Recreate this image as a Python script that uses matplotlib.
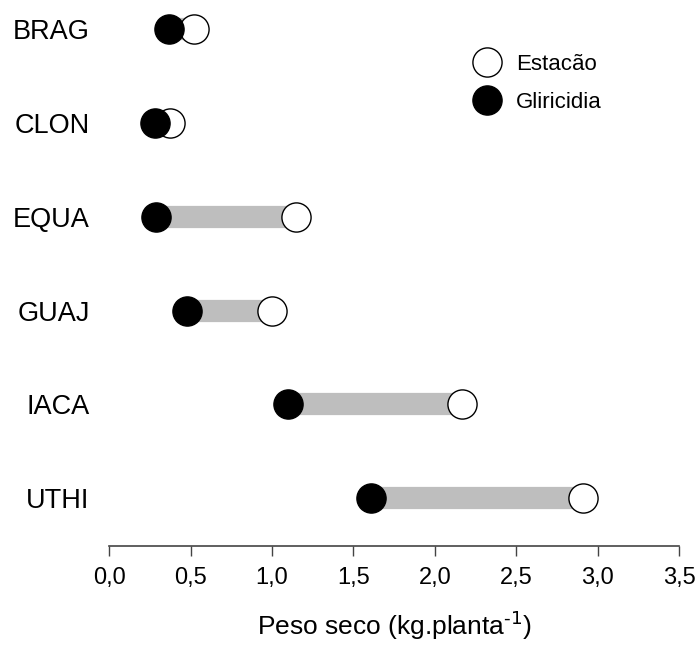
import matplotlib
matplotlib.use("Agg")
import matplotlib.pyplot as plt
from matplotlib.lines import Line2D
from matplotlib.ticker import FuncFormatter

plt.rcParams["font.family"] = ["Liberation Sans", "DejaVu Sans"]

INK = "#000000"
BAR = "#bebebe"

genotypes = ["BRAG", "CLON", "EQUA", "GUAJ", "IACA", "UTHI"]
estacao = [0.52, 0.375, 1.15, 1.00, 2.17, 2.91]
gliricidia = [0.37, 0.28, 0.29, 0.48, 1.10, 1.61]
xticks = [0.0, 0.5, 1.0, 1.5, 2.0, 2.5, 3.0, 3.5]

fig = plt.figure(figsize=(6.95, 6.51), dpi=100)
ax = fig.add_axes([0.157, 0.161, 0.820, 0.839])

ypos = list(range(len(genotypes), 0, -1))

for y, a, b in zip(ypos, gliricidia, estacao):
    ax.plot([a, b], [y, y], color=BAR, linewidth=16, solid_capstyle="butt", zorder=1)
ax.plot(estacao, ypos, "o", markersize=21, markerfacecolor="white",
        markeredgecolor=INK, markeredgewidth=1.0, linestyle="none", zorder=2)
ax.plot(gliricidia, ypos, "o", markersize=21, markerfacecolor=INK,
        markeredgecolor=INK, markeredgewidth=1.0, linestyle="none", zorder=3)

ax.set_xlim(0, 3.5)
ax.set_ylim(0.49, 6.31)
ax.set_xticks(xticks)
ax.xaxis.set_major_formatter(FuncFormatter(lambda v, _: f"{v:.1f}".replace(".", ",")))
ax.set_yticks(ypos)
ax.set_yticklabels(genotypes, fontsize=19.5)
ax.tick_params(axis="y", length=0, pad=14)
ax.tick_params(axis="x", length=7, width=1, labelsize=17, pad=8, color="#444444")

for side in ["left", "right", "top"]:
    ax.spines[side].set_visible(False)
ax.spines["bottom"].set_color("#444444")
ax.spines["bottom"].set_linewidth(1.2)

ax.set_xlabel(r"Peso seco (kg.planta$^{\text{-1}}$)", fontsize=19, labelpad=14)

handles = [
    Line2D([], [], marker="o", linestyle="none", markersize=21,
           markerfacecolor="white", markeredgecolor=INK, markeredgewidth=1.0),
    Line2D([], [], marker="o", linestyle="none", markersize=21,
           markerfacecolor=INK, markeredgecolor=INK),
]
fig.legend(handles, ["Estacão", "Gliricidia"], loc="upper left",
           bbox_to_anchor=(0.685, 0.917), frameon=False, fontsize=16,
           handlelength=1.0, handletextpad=0.8, labelspacing=0.75,
           borderaxespad=0, borderpad=0)

fig.savefig("out.png", dpi=100, facecolor="white")
